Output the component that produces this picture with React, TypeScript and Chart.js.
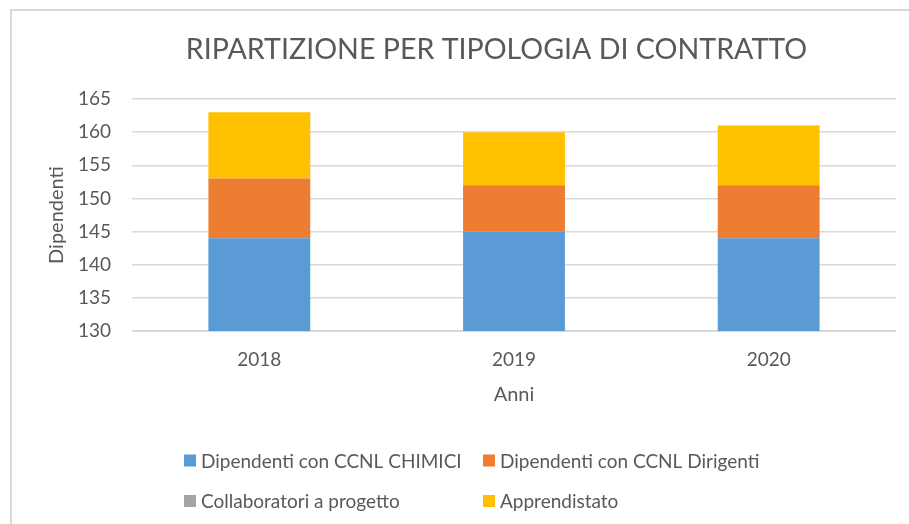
import React, { useEffect, useRef } from "react";
import { Chart, registerables } from "chart.js";

Chart.register(...registerables);

const categories = ["2018", "2019", "2020"];
const seriesNames = [
  "Dipendenti con CCNL CHIMICI",
  "Dipendenti con CCNL Dirigenti",
  "Collaboratori a progetto",
  "Apprendistato",
];
const chimici = [144, 145, 144];
const dirigenti = [9, 7, 8];
const collaboratori = [0, 0, 0];
const apprendistato = [10, 8, 9];
const seriesColors = ["#5B9BD5", "#ED7D31", "#A5A5A5", "#FFC000"];
const yMin = 130;
const yMax = 165;
const yStep = 5;
const chartTitle = "RIPARTIZIONE PER TIPOLOGIA DI CONTRATTO";
const xTitle = "Anni";
const yTitle = "Dipendenti";

const FONT = "Lato, 'Liberation Sans', sans-serif";
const TEXT = "#595959";

const titleAndLegend = {
  id: "titleAndLegend",
  afterDraw(chart: any) {
    const ctx = chart.ctx;
    ctx.save();
    // title
    ctx.fillStyle = TEXT;
    ctx.font = `28.6px ${FONT}`;
    ctx.textAlign = "center";
    ctx.textBaseline = "alphabetic";
    ctx.fillText(chartTitle, 496.5, 58.5);
    // legend in a 2-column grid
    const cols = [184, 483];
    const rows = [460.5, 501];
    chart.data.datasets.forEach((ds: any, i: number) => {
      const x = cols[i % 2];
      const y = rows[Math.floor(i / 2)];
      ctx.fillStyle = ds.backgroundColor;
      ctx.fillRect(x, y - 6, 12, 12);
      ctx.fillStyle = TEXT;
      ctx.font = `19px ${FONT}`;
      ctx.textBaseline = "middle";
      ctx.textAlign = "left";
      ctx.fillText(ds.label, x + 17, y + 1);
    });
    ctx.restore();
  },
};

export default function App() {
  const ref = useRef<HTMLCanvasElement | null>(null);
  useEffect(() => {
    if (!ref.current) return;
    const data = [chimici, dirigenti, collaboratori, apprendistato];
    const chart = new Chart(ref.current, {
      type: "bar",
      data: {
        labels: categories,
        datasets: data.map((d, i) => ({
          label: seriesNames[i],
          data: d,
          backgroundColor: seriesColors[i],
          borderWidth: 0,
          barPercentage: 0.4,
          categoryPercentage: 1,
        })),
      },
      options: {
        responsive: false,
        animation: false,
        layout: { padding: { left: 0, right: 13, top: 99, bottom: 103 } },
        plugins: {
          legend: { display: false },
          tooltip: { enabled: false },
          title: { display: false },
        },
        scales: {
          x: {
            stacked: true,
            grid: { display: false, drawTicks: false },
            border: { display: false },
            ticks: { color: TEXT, font: { family: FONT, size: 19 }, padding: 17.6 },
            title: {
              display: true,
              text: xTitle,
              color: TEXT,
              font: { family: FONT, size: 20 },
              padding: { top: 0, bottom: 14 },
            },
            afterFit(scale: any) {
              scale.height = 90;
            },
          },
          y: {
            stacked: true,
            min: yMin,
            max: yMax,
            ticks: { stepSize: yStep, color: TEXT, font: { family: FONT, size: 19 }, padding: 21 },
            grid: {
              color: "#d9d9d9",
              lineWidth: (c: any) => (c.tick && c.tick.value === yMin ? 2 : 1.5),
              drawTicks: false,
            },
            border: { display: false },
            title: {
              display: true,
              text: yTitle,
              color: TEXT,
              font: { family: FONT, size: 20 },
              padding: { top: 45, bottom: 0 },
            },
            afterFit(scale: any) {
              scale.width = 132;
            },
          },
        },
      },
      plugins: [titleAndLegend],
    });
    return () => chart.destroy();
  }, []);

  return (
    <div
      style={{
        position: "fixed",
        left: 0,
        top: 0,
        width: 909,
        height: 524,
        overflow: "hidden",
        background: "#fff",
      }}
    >
      <div
        style={{
          position: "absolute",
          left: 10,
          top: 9,
          width: 1200,
          height: 800,
          border: "2px solid #d9d9d9",
          boxSizing: "border-box",
        }}
      />
      <canvas ref={ref} width={909} height={524} style={{ position: "absolute", left: 0, top: 0 }} />
    </div>
  );
}
